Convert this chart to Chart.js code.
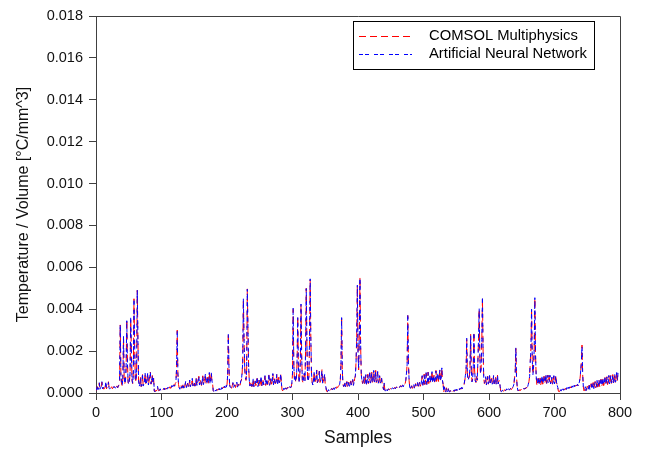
<!DOCTYPE html>
<html>
<head>
<meta charset="utf-8">
<script src="https://cdn.jsdelivr.net/npm/chart.js@4"></script>
<style>
  html, body { margin: 0; padding: 0; background: #fff; }
  canvas { display: block; }
</style>
</head>
<body>
<canvas id="chart" width="645" height="453"></canvas>
<script>
// Temperature / volume per sample, in units of 1e-5 °C/mm^3 (index = sample number)
const comsolE5 = [
  10, 22, 30, 18, 25, 48, 20, 24, 30, 52,
  22, 26, 18, 24, 28, 50, 20, 26, 30, 54,
  24, 18, 22, 26, 30, 20, 24, 28, 32, 22,
  26, 30, 34, 24,
  30, 40, 60, 325, 90, 40, 35, 70, 260, 80,
  45, 60, 120, 350, 150, 50, 40, 55, 90, 350,
  210, 60, 45, 90, 450, 220, 70, 50, 110, 490,
  260,
  60, 35, 40, 75, 30, 45, 88, 35, 40, 60,
  92, 38, 45, 70, 95, 40, 55, 80, 100, 42,
  60, 85, 50, 70,
  8, 5, 12, 10, 15, 30, 12, 10, 14, 18,
  12, 16, 20, 14, 18, 22, 16, 20, 24, 18,
  22, 26, 20, 24, 30, 22, 28, 34, 26, 30,
  40, 32, 45,
  50, 120, 300, 90, 40,
  25, 20, 28, 35, 22, 30, 45, 25, 30, 40,
  55, 28, 35, 48, 30, 38, 60, 32, 40, 50,
  68, 35, 42, 55, 32, 45, 70, 38, 48, 62,
  80, 40, 50, 65, 36, 52, 82, 42, 55, 70,
  88, 45, 58, 75, 40, 60, 95, 48, 62, 100,
  55, 45,
  10, 5, 8, 12, 10, 15, 12, 18, 14, 20,
  16, 22, 18, 25, 20, 28, 24, 32, 26, 35,
  30, 40,
  80, 285, 120, 40,
  25, 30, 22, 35, 48, 28, 32, 40, 26, 36,
  50, 30, 35, 42, 28, 38, 55, 60,
  90, 150, 447, 260, 120, 80, 60, 110, 497, 300, 130,
  60, 35, 40, 55, 30, 38, 65, 32, 42, 58,
  35, 45, 70, 30, 40, 62, 36, 48, 75, 34,
  42, 60, 38, 50, 80, 36, 46, 66, 40, 52,
  85, 38, 48, 70, 42, 55, 90, 40, 50, 72,
  45, 58, 88, 42, 52, 75, 48, 60, 92, 50,
  15, 10, 18, 22, 14, 20, 25, 18, 24, 28,
  20, 26, 32, 24, 30, 45,
  90, 400, 140, 60, 80, 50, 70, 150, 365, 120,
  55, 75, 160, 420, 180, 60, 50, 70, 90, 60,
  200, 500, 230, 70, 55, 80, 250, 540, 260, 90,
  50, 40, 60, 100, 45, 55, 70, 110, 48, 58,
  75, 105, 50, 60, 72, 112, 45, 55, 68, 90,
  40, 30,
  8, 5, 10, 14, 10, 16, 12, 18, 22, 15,
  20, 25, 18, 24, 28, 22, 30, 26, 32, 36,
  40,
  60, 140, 365, 110, 45,
  30, 35, 48, 28, 38, 55, 30, 40, 52, 34,
  42, 58, 36, 45, 62, 38, 48, 70, 80,
  150, 260, 510, 200, 110, 280, 550, 230, 90,
  60, 45, 55, 80, 40, 50, 85, 42, 55, 90,
  45, 58, 95, 48, 60, 100, 50, 62, 105, 52,
  65, 108, 50, 60, 100, 48, 58, 85, 45, 55,
  70, 40, 30,
  15, 50, 12, 8, 14, 18, 12, 16, 20, 15,
  18, 22, 17, 21, 25, 19, 23, 27, 21, 25,
  29, 23, 27, 31, 25, 30, 35, 28, 33, 38,
  30, 36, 42, 45, 60,
  90, 140, 370, 150, 60,
  25, 20, 28, 35, 22, 30, 40, 25, 32, 45,
  28, 35, 48, 30, 38, 52, 32, 40, 55,
  80, 38, 48, 90, 40, 50, 95, 42, 55, 100,
  45, 58, 80, 48, 60, 105, 50, 62, 85, 52,
  65, 108, 55, 68, 90, 55, 70, 112, 58, 72,
  118, 60, 40,
  5, 30, 8, 4, 25, 10, 6, 20, 8, 5,
  12, 8, 15, 10, 6, 12, 9, 14, 10, 16,
  12, 18, 14, 20, 16, 22, 18, 25, 20, 28,
  30, 40, 60,
  80, 110, 256, 90, 60, 70, 80, 120, 280, 100,
  55, 65, 130, 290, 110, 60, 50, 80, 60, 150,
  250, 400, 180, 90, 120, 250, 450, 200, 70,
  45, 55, 75, 40, 50, 80, 42, 55, 85, 45,
  52, 70, 40, 50, 82, 44, 55, 78, 40, 50,
  85, 45, 55, 60, 30,
  8, 5, 10, 14, 8, 12, 16, 10, 14, 18,
  12, 16, 20, 14, 18, 22, 16, 20, 26, 30,
  40,
  70, 100, 213, 80, 30,
  10, 14, 10, 16, 12, 18, 14, 20, 16, 22,
  18, 24, 20, 28, 24, 32, 40, 55, 80,
  150, 210, 404, 160, 90, 120, 200, 452, 190, 80,
  40, 50, 70, 38, 48, 72, 40, 52, 78, 42,
  55, 80, 45, 58, 84, 46, 60, 86, 48, 58,
  82, 45, 55, 78, 42, 52, 80, 45, 55, 86,
  50, 40, 25,
  8, 5, 10, 14, 10, 15, 12, 18, 14, 20,
  16, 22, 18, 24, 20, 26, 22, 28, 24, 30,
  26, 32, 28, 34, 30, 36, 32, 38, 34, 40,
  36, 42, 50, 70,
  100, 150, 229, 90, 30,
  10, 14, 28, 12, 16, 32, 14, 20, 38, 18,
  24, 45, 20, 28, 50, 22, 30, 55, 25, 34,
  58, 28, 36, 62, 30, 40, 66, 32, 42, 70,
  35, 45, 74, 38, 48, 78, 40, 52, 82, 44,
  55, 86, 46, 58, 88, 48, 60, 92, 50, 62,
  95, 60, 100
];

const annE5 = [
  12, 20, 32, 16, 27, 50, 18, 26, 28, 55,
  20, 28, 17, 25, 26, 52, 22, 24, 32, 50,
  22, 20, 21, 28, 28, 22, 22, 30, 30, 24,
  24, 32, 32, 26,
  32, 38, 65, 330, 85, 42, 33, 75, 270, 75,
  48, 58, 130, 345, 140, 55, 38, 60, 95, 360,
  200, 65, 42, 95, 445, 230, 65, 55, 105, 495,
  250,
  62, 33, 42, 72, 32, 44, 90, 33, 42, 58,
  95, 36, 47, 68, 98, 38, 57, 78, 98, 44,
  58, 88, 48, 72,
  10, 6, 10, 12, 14, 32, 10, 12, 13, 20,
  10, 18, 19, 15, 17, 24, 15, 21, 23, 20,
  20, 28, 19, 26, 28, 24, 27, 36, 25, 32,
  38, 34, 48,
  55, 115, 295, 95, 38,
  27, 18, 30, 33, 24, 28, 47, 23, 32, 38,
  58, 26, 37, 46, 32, 36, 62, 30, 42, 48,
  70, 33, 44, 53, 34, 43, 72, 36, 50, 60,
  83, 38, 52, 63, 38, 50, 85, 40, 57, 68,
  90, 43, 60, 73, 42, 58, 98, 46, 64, 97,
  58, 42,
  12, 6, 7, 14, 9, 16, 11, 20, 13, 22,
  15, 24, 17, 26, 19, 30, 23, 33, 25, 37,
  28, 42,
  85, 280, 125, 38,
  27, 28, 24, 33, 50, 26, 34, 38, 28, 34,
  52, 28, 37, 40, 30, 36, 58, 62,
  95, 145, 452, 250, 125, 75, 65, 105, 495, 310, 125,
  62, 33, 42, 53, 32, 36, 68, 30, 44, 56,
  37, 43, 73, 28, 42, 60, 38, 46, 78, 32,
  44, 58, 40, 48, 83, 34, 48, 64, 42, 50,
  88, 36, 50, 68, 44, 53, 93, 38, 52, 70,
  47, 56, 90, 40, 54, 73, 50, 58, 95, 48,
  17, 12, 16, 24, 13, 22, 23, 20, 22, 30,
  19, 28, 30, 26, 28, 48,
  95, 405, 135, 65, 78, 52, 68, 155, 360, 125,
  52, 78, 155, 425, 175, 62, 48, 72, 95, 58,
  205, 498, 235, 68, 58, 78, 255, 545, 255, 95,
  52, 38, 62, 98, 47, 53, 73, 108, 50, 56,
  78, 103, 52, 58, 75, 110, 47, 53, 70, 88,
  42, 28,
  10, 6, 9, 16, 9, 18, 11, 20, 20, 17,
  18, 27, 17, 26, 26, 24, 28, 28, 30, 38,
  42,
  65, 135, 360, 115, 43,
  32, 33, 50, 26, 40, 53, 32, 38, 55, 32,
  44, 56, 38, 43, 65, 36, 50, 68, 85,
  145, 265, 515, 195, 115, 275, 552, 235, 85,
  62, 43, 57, 78, 42, 48, 88, 40, 57, 88,
  47, 56, 98, 46, 62, 98, 52, 60, 108, 50,
  67, 105, 52, 58, 103, 46, 60, 83, 47, 53,
  72, 38, 32,
  17, 48, 14, 9, 13, 20, 11, 18, 19, 17,
  16, 24, 16, 23, 24, 21, 22, 29, 20, 27,
  28, 25, 26, 33, 24, 32, 34, 30, 32, 40,
  29, 38, 40, 47, 63,
  95, 135, 372, 145, 62,
  27, 18, 30, 33, 24, 28, 42, 23, 34, 43,
  30, 33, 50, 28, 40, 50, 34, 38, 58,
  83, 36, 50, 88, 42, 48, 98, 40, 57, 98,
  47, 56, 83, 46, 62, 102, 52, 60, 88, 50,
  67, 105, 57, 66, 93, 53, 72, 110, 60, 70,
  120, 58, 42,
  6, 28, 10, 5, 27, 8, 7, 22, 7, 6,
  10, 9, 13, 12, 5, 14, 8, 16, 9, 18,
  11, 20, 13, 22, 15, 24, 17, 27, 19, 30,
  28, 42, 63,
  85, 105, 262, 95, 58, 72, 78, 125, 276, 105,
  53, 68, 125, 285, 115, 58, 52, 78, 62, 145,
  255, 405, 175, 95, 115, 255, 455, 195, 72,
  47, 53, 78, 38, 52, 78, 44, 53, 88, 43,
  54, 68, 42, 48, 85, 42, 57, 76, 42, 48,
  88, 43, 57, 58, 32,
  10, 6, 9, 16, 7, 14, 15, 12, 13, 20,
  11, 18, 19, 16, 17, 24, 15, 22, 25, 32,
  42,
  75, 95, 218, 75, 32,
  12, 13, 12, 15, 14, 17, 16, 19, 18, 21,
  20, 23, 22, 27, 26, 30, 42, 58, 78,
  155, 205, 400, 165, 85, 125, 205, 455, 185, 82,
  42, 48, 73, 36, 50, 70, 42, 50, 80, 40,
  57, 78, 47, 56, 86, 44, 62, 84, 50, 56,
  85, 43, 57, 76, 44, 50, 83, 43, 57, 84,
  52, 38, 27,
  10, 6, 9, 16, 9, 17, 11, 20, 13, 22,
  15, 24, 17, 26, 19, 28, 21, 30, 23, 32,
  25, 34, 27, 36, 29, 38, 31, 40, 33, 42,
  35, 44, 52, 73,
  105, 145, 226, 95, 32,
  12, 13, 30, 11, 18, 30, 15, 19, 40, 17,
  26, 43, 22, 27, 52, 21, 32, 53, 27, 33,
  60, 27, 38, 60, 32, 38, 68, 31, 44, 68,
  37, 44, 76, 37, 50, 76, 42, 50, 84, 43,
  57, 84, 48, 57, 90, 47, 62, 90, 52, 60,
  98, 58, 97
];

const xTicks = [0, 100, 200, 300, 400, 500, 600, 700, 800];
const yTicks = [0, 0.002, 0.004, 0.006, 0.008, 0.010, 0.012, 0.014, 0.016, 0.018];
const seriesLabels = ['COMSOL Multiphysics', 'Artificial Neural Network'];

const FONT = '"Liberation Sans", Arial, sans-serif';
const AXIS = '#404040';

function toPoints(arr) {
  return arr.map((v, i) => ({ x: i, y: v / 1e5 }));
}

// top + right frame lines (no ticks there)
const frame = {
  id: 'frame',
  afterDraw(chart) {
    const { ctx, chartArea: a } = chart;
    ctx.save();
    ctx.strokeStyle = AXIS;
    ctx.lineWidth = 1;
    ctx.beginPath();
    ctx.moveTo(a.left, a.top + 0.5);
    ctx.lineTo(a.right + 0.5, a.top + 0.5);
    ctx.lineTo(a.right + 0.5, a.bottom);
    ctx.stroke();
    ctx.restore();
  }
};

// boxed legend in the upper right of the plot
const boxLegend = {
  id: 'boxLegend',
  afterDraw(chart) {
    const ctx = chart.ctx;
    ctx.save();
    ctx.strokeStyle = '#000';
    ctx.lineWidth = 1;
    ctx.strokeRect(353.5, 21.5, 241, 48);
    ctx.font = '14.8px ' + FONT;
    ctx.textBaseline = 'middle';
    ctx.fillStyle = '#000';
    chart.data.datasets.forEach((ds, i) => {
      const y = 36 + i * 17.5;
      ctx.strokeStyle = ds.borderColor;
      ctx.setLineDash(ds.borderDash);
      ctx.beginPath();
      ctx.moveTo(359, Math.round(y) + 0.5);
      ctx.lineTo(412, Math.round(y) + 0.5);
      ctx.stroke();
      ctx.setLineDash([]);
      ctx.fillText(ds.label, 429, y);
    });
    ctx.restore();
  }
};

new Chart(document.getElementById('chart'), {
  type: 'line',
  data: {
    datasets: [
      { label: seriesLabels[0], data: toPoints(comsolE5), borderColor: '#ff0000',
        borderDash: [7, 4], borderWidth: 1, order: 1 },
      { label: seriesLabels[1], data: toPoints(annE5), borderColor: '#0000ff',
        borderDash: [4, 2, 4, 5], borderWidth: 1, order: 0 }
    ]
  },
  options: {
    responsive: false, animation: false, devicePixelRatio: 1,
    parsing: false,
    layout: { padding: { top: 16, right: 25, left: 0, bottom: 0 } },
    elements: { point: { radius: 0 }, line: { tension: 0, fill: false } },
    plugins: { legend: { display: false }, tooltip: { enabled: false } },
    scales: {
      x: {
        type: 'linear', min: 0, max: 800,
        afterBuildTicks: s => { s.ticks = xTicks.map(v => ({ value: v })); },
        afterFit: s => { s.height = 60; },
        grid: { drawOnChartArea: false, drawTicks: true, tickLength: 7, color: AXIS },
        border: { color: AXIS, width: 1 },
        ticks: { color: '#111', font: { size: 14.5, family: FONT }, padding: 4,
          maxRotation: 0, autoSkip: false },
        title: { display: true, text: 'Samples', color: '#111',
          font: { size: 17.5, family: FONT }, padding: { top: 0, bottom: 4.5 } }
      },
      y: {
        type: 'linear', min: 0, max: 0.018,
        afterBuildTicks: s => { s.ticks = yTicks.map(v => ({ value: v })); },
        afterFit: s => { s.width = 96; },
        grid: { drawOnChartArea: false, drawTicks: true, tickLength: 7, color: AXIS },
        border: { color: AXIS, width: 1 },
        ticks: { color: '#111', font: { size: 14.5, family: FONT }, padding: 6,
          autoSkip: false, callback: v => v.toFixed(3) },
        title: { display: true, text: 'Temperature / Volume [°C/mm^3]', color: '#111',
          font: { size: 16, family: FONT }, padding: { top: 14, bottom: 0 } }
      }
    }
  },
  plugins: [frame, boxLegend]
});
</script>
</body>
</html>
